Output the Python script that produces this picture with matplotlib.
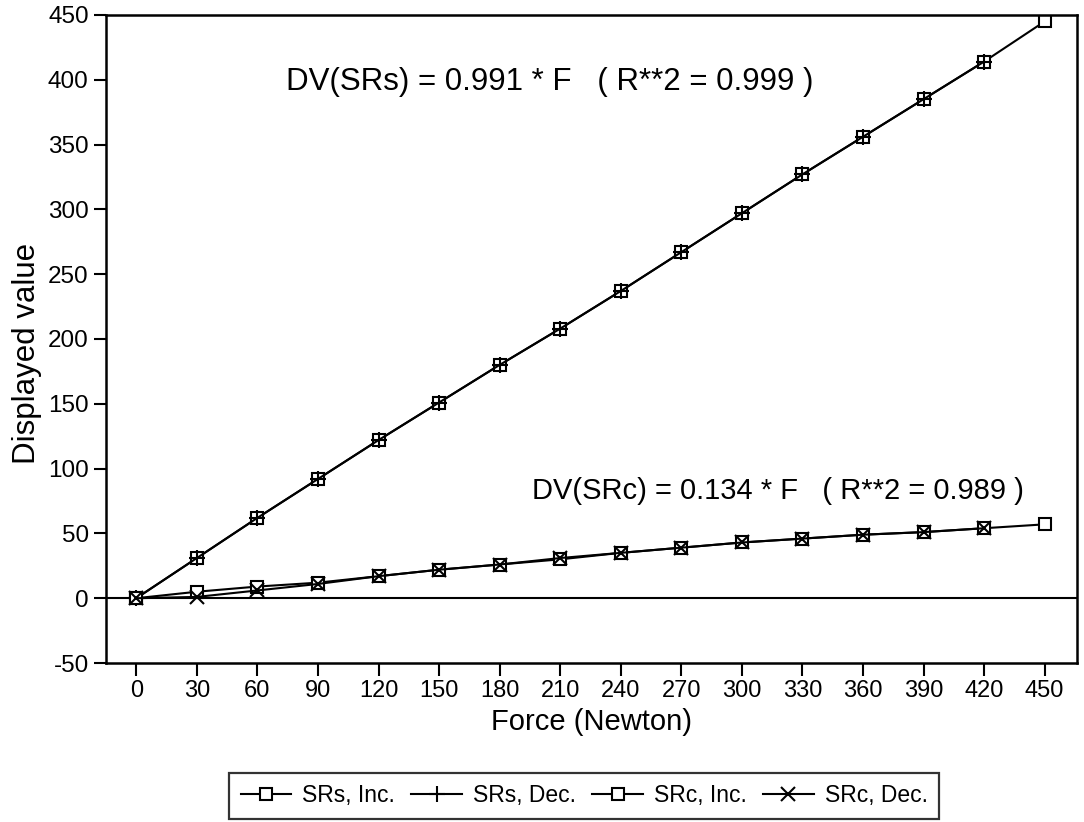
import matplotlib
matplotlib.use("Agg")
import matplotlib.pyplot as plt
from matplotlib import font_manager

plt.rcParams["font.family"] = ["Liberation Sans", "DejaVu Sans"]
plt.rcParams["axes.unicode_minus"] = False

force = [0, 30, 60, 90, 120, 150, 180, 210, 240, 270, 300, 330, 360, 390, 420, 450]
force_dec = force[:-1]

srs_inc = [0, 31, 62, 92, 122, 151, 180, 208, 237, 267, 297, 327, 356, 385, 414, 445]
srs_dec = [0, 31, 62, 92, 122, 151, 180, 208, 237, 267, 297, 327, 356, 385, 414]
src_inc = [0, 5, 9, 12, 17, 22, 26, 30, 35, 39, 43, 46, 49, 51, 54, 57]
src_dec = [0, 1, 6, 11, 17, 22, 26, 31, 35, 39, 43, 46, 49, 51, 54]

fit_srs = "DV(SRs) = 0.991 * F   ( R**2 = 0.999 )"
fit_src = "DV(SRc) = 0.134 * F   ( R**2 = 0.989 )"

narrow = [f for f in ("Liberation Sans Narrow",)
          if any(e.name == f for e in font_manager.fontManager.ttflist)]
tick_family = narrow + ["Liberation Sans", "DejaVu Sans"]

fig = plt.figure(figsize=(10.84, 8.22), dpi=100)
ax = fig.add_axes([0.0978, 0.1934, 0.8957, 0.7884])

line_kw = dict(color="black", lw=1.5, markersize=9, markeredgewidth=1.5,
               markerfacecolor="white", markeredgecolor="black")
ax.plot(force, srs_inc, marker="s", label="SRs, Inc.", **line_kw)
ax.plot(force_dec, srs_dec, marker="+", label="SRs, Dec.",
        **{**line_kw, "markersize": 11})
ax.plot(force, src_inc, marker="s", label="SRc, Inc.", **line_kw)
ax.plot(force_dec, src_dec, marker="x", label="SRc, Dec.",
        **{**line_kw, "markersize": 10})

ax.axhline(0, color="black", lw=1.5, zorder=0)

ax.text(74, 398, fit_srs, fontsize=22.5, va="center", ha="left")
ax.text(196, 83, fit_src, fontsize=21, va="center", ha="left")

ax.set_xlim(-15, 466)
ax.set_ylim(-50, 450)
ax.set_xticks(force)
ax.set_yticks(range(-50, 451, 50))
ax.tick_params(direction="out", length=9, width=1.5, labelsize=17.5)
for lab in ax.get_xticklabels():
    lab.set_family(tick_family)
    lab.set_fontsize(17)
for sp in ax.spines.values():
    sp.set_linewidth(1.8)

ax.set_xlabel("Force (Newton)", fontsize=21, labelpad=4)
ax.set_ylabel("Displayed value", fontsize=22.5)
ax.yaxis.set_label_coords(-0.066, 0.477)

leg = fig.legend(loc="center", bbox_to_anchor=(0.539, 0.032), ncol=4,
                 fontsize=16.5, frameon=True, fancybox=False,
                 edgecolor="black", handlelength=2.2, handletextpad=0.5,
                 columnspacing=0.7, borderpad=0.5)
leg.get_frame().set_linewidth(1.6)

fig.savefig("out.png", dpi=100, facecolor="white")
